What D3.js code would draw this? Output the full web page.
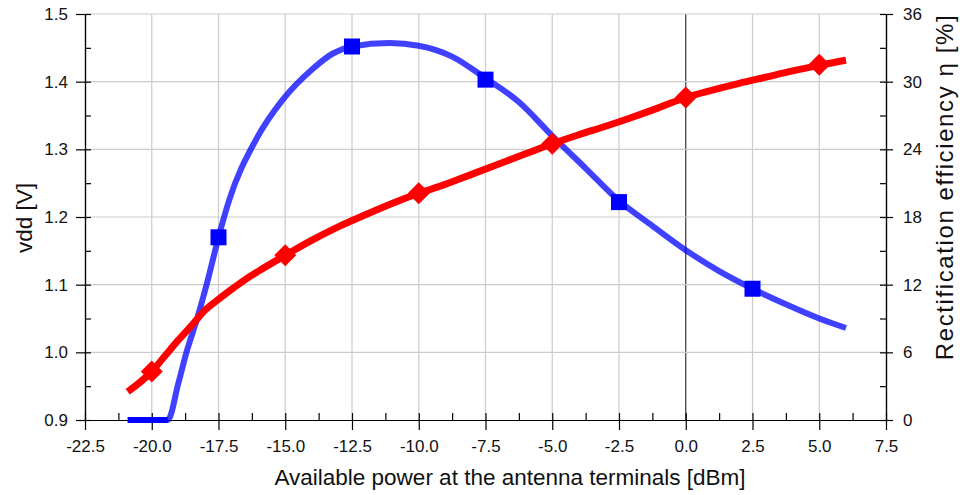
<!DOCTYPE html>
<html>
<head>
<meta charset="utf-8">
<script src="https://cdn.jsdelivr.net/npm/d3@7"></script>
<style>
  body { margin: 0; background: #fff; }
  svg { display: block; font-family: "Liberation Sans", Arial, sans-serif; }
</style>
</head>
<body>
<svg width="960" height="495"></svg>
<script>
(function (d3) {
  'use strict';

  // vdd curve (left axis)
  var vddPower = [-20.9, -19.4, -19.0, -18.7, -18.3, -17.9, -17.5, -17.1, -16.1, -15.1, -14.0, -13.2, -12.5,
    -11.1, -10.0, -8.75, -7.5, -6.25, -5.0, -3.75, -2.5, -1.25, 0, 1.25, 2.5, 3.75, 5.0, 6.0];
  var vdd = [0.9, 0.9, 0.955, 1.0, 1.05, 1.107, 1.17, 1.225, 1.314, 1.373, 1.418, 1.442, 1.452,
    1.457, 1.453, 1.437, 1.405, 1.370, 1.320, 1.272, 1.224, 1.187, 1.151, 1.120, 1.094, 1.071, 1.050, 1.036];
  var vddMarkPower = [-17.5, -12.5, -7.5, -2.5, 2.5];
  var vddMark = [1.170, 1.452, 1.403, 1.222, 1.094];

  // efficiency curve (right axis)
  var effPower = [-20.9, -20, -19.5, -19, -18.5, -18, -17.5, -17, -16.5, -16, -15, -14, -13, -12, -11, -10,
    -9, -8, -7, -6, -5, -4, -3, -2, -1, 0, 1, 2, 3, 4, 5, 6];
  var eff = [2.5, 4.3, 5.7, 7.1, 8.4, 9.75, 10.7, 11.6, 12.45, 13.2, 14.6, 15.95, 17.15, 18.2, 19.2, 20.1,
    20.9, 21.8, 22.7, 23.6, 24.5, 25.3, 26.05, 26.85, 27.7, 28.6, 29.25, 29.85, 30.4, 30.95, 31.45, 31.9];
  var effMarkPower = [-20, -15, -10, -5, 0, 5];
  var effMark = [4.3, 14.6, 20.1, 24.5, 28.6, 31.5];

  var xTicks = [-22.5, -20, -17.5, -15, -12.5, -10, -7.5, -5, -2.5, 0, 2.5, 5, 7.5];
  var xMinor = [-21.25, -18.75, -16.25, -13.75, -11.25, -8.75, -6.25, -3.75, -1.25, 1.25, 3.75, 6.25];
  var leftTicks = [0.9, 1.0, 1.1, 1.2, 1.3, 1.4, 1.5];
  var leftMinor = [0.95, 1.05, 1.15, 1.25, 1.35, 1.45];
  var rightTicks = [0, 6, 12, 18, 24, 30, 36];
  var rightMinor = [3, 9, 15, 21, 27, 33];

  var svg = d3.select('svg');

  var x = d3.scaleLinear().domain([-22.5, 7.5]).range([85, 886]);
  var yL = d3.scaleLinear().domain([0.9, 1.5]).range([420, 14]);
  var yR = d3.scaleLinear().domain([0, 36]).range([420, 14]);

  var fmt1 = function (d) { return d.toFixed(1); };

  // grid
  var grid = svg.append('g');
  grid.selectAll('line.v').data(xTicks.slice(1, -1))
    .enter().append('line')
      .attr('x1', function (d) { return x(d); })
      .attr('x2', function (d) { return x(d); })
      .attr('y1', yL(1.5)).attr('y2', yL(0.9))
      .attr('stroke', function (d) { return d === 0 ? '#333' : '#cccccc'; })
      .attr('stroke-width', 1.2);
  grid.selectAll('line.h').data(leftTicks.slice(1))
    .enter().append('line')
      .attr('x1', x(-22.5)).attr('x2', x(7.5))
      .attr('y1', function (d) { return yL(d); })
      .attr('y2', function (d) { return yL(d); })
      .attr('stroke', '#cccccc')
      .attr('stroke-width', 1.2);

  // axes
  var styleAxis = function (g) {
    g.select('.domain').attr('stroke', '#000').attr('stroke-width', 1.2);
    g.selectAll('.tick line').attr('stroke', '#000').attr('stroke-width', 1.2);
    g.selectAll('text').attr('fill', '#111').style('font-size', '17px')
      .style('font-family', '"Liberation Sans", Arial, sans-serif');
  };

  var xAxis = svg.append('g').attr('transform', 'translate(0,420)')
    .call(d3.axisBottom(x).tickValues(xTicks).tickFormat(fmt1).tickSize(10).tickSizeOuter(0).tickPadding(10));
  xAxis.selectAll('.tick line').attr('y1', -7);
  xAxis.call(styleAxis);
  svg.append('g').attr('transform', 'translate(0,420)')
    .call(d3.axisBottom(x).tickValues(xMinor).tickFormat('').tickSize(-7).tickSizeOuter(0))
    .call(styleAxis);

  var lAxis = svg.append('g').attr('transform', 'translate(85,0)')
    .call(d3.axisLeft(yL).tickValues(leftTicks).tickFormat(fmt1).tickSize(9).tickSizeOuter(0).tickPadding(8));
  lAxis.selectAll('.tick line').attr('x1', 6);
  lAxis.call(styleAxis);
  svg.append('g').attr('transform', 'translate(85,0)')
    .call(d3.axisLeft(yL).tickValues(leftMinor).tickFormat('').tickSize(-6).tickSizeOuter(0))
    .call(styleAxis);

  var rAxis = svg.append('g').attr('transform', 'translate(886,0)')
    .call(d3.axisRight(yR).tickValues(rightTicks).tickSize(7).tickSizeOuter(0).tickPadding(10));
  rAxis.selectAll('.tick line').attr('x1', -6);
  rAxis.call(styleAxis);
  svg.append('g').attr('transform', 'translate(886,0)')
    .call(d3.axisRight(yR).tickValues(rightMinor).tickFormat('').tickSize(-6).tickSizeOuter(0))
    .call(styleAxis);

  // curves
  var vddPts = vddPower.map(function (p, i) { return [p, vdd[i]]; });
  var effPts = effPower.map(function (p, i) { return [p, eff[i]]; });

  var vddLine = d3.line().curve(d3.curveMonotoneX)
    .x(function (d) { return x(d[0]); }).y(function (d) { return yL(d[1]); });
  var effLine = d3.line().curve(d3.curveMonotoneX)
    .x(function (d) { return x(d[0]); }).y(function (d) { return yR(d[1]); });

  svg.append('path').datum(vddPts)
    .attr('d', vddLine)
    .attr('fill', 'none')
    .attr('stroke', '#0000ff')
    .attr('stroke-opacity', 0.75)
    .attr('stroke-width', 6)
    .attr('stroke-linejoin', 'round');
  svg.append('path').datum(vddPts.filter(function (d) { return d[1] <= 0.9; }))
    .attr('d', vddLine)
    .attr('fill', 'none')
    .attr('stroke', '#0000ff')
    .attr('stroke-width', 6);

  svg.append('path').datum(effPts)
    .attr('d', effLine)
    .attr('fill', 'none')
    .attr('stroke', '#ff0000')
    .attr('stroke-width', 7)
    .attr('stroke-linejoin', 'round');

  // markers
  svg.selectAll('rect.mark').data(vddMarkPower)
    .enter().append('rect')
      .attr('x', function (d) { return x(d) - 8; })
      .attr('y', function (d, i) { return yL(vddMark[i]) - 8; })
      .attr('width', 16).attr('height', 16)
      .attr('fill', '#0000ff');

  svg.selectAll('path.diamond').data(effMarkPower)
    .enter().append('path')
      .attr('transform', function (d, i) { return 'translate(' + x(d) + ',' + yR(effMark[i]) + ')'; })
      .attr('d', 'M0,-11L11,0L0,11L-11,0Z')
      .attr('fill', '#ff0000');

  // titles
  svg.append('text')
    .attr('x', 510).attr('y', 485)
    .attr('text-anchor', 'middle')
    .style('font-size', '22.5px')
    .attr('fill', '#111')
    .text('Available power at the antenna terminals [dBm]');

  svg.append('text')
    .attr('transform', 'translate(32,218) rotate(-90)')
    .attr('text-anchor', 'middle')
    .style('font-size', '22.5px')
    .attr('fill', '#111')
    .text('vdd [V]');

  svg.append('text')
    .attr('transform', 'translate(953,187) rotate(-90)')
    .attr('text-anchor', 'middle')
    .style('font-size', '24px')
    .style('letter-spacing', '1.6px')
    .attr('fill', '#111')
    .text('Rectification efficiency η [%]');

}(d3));
</script>
</body>
</html>
